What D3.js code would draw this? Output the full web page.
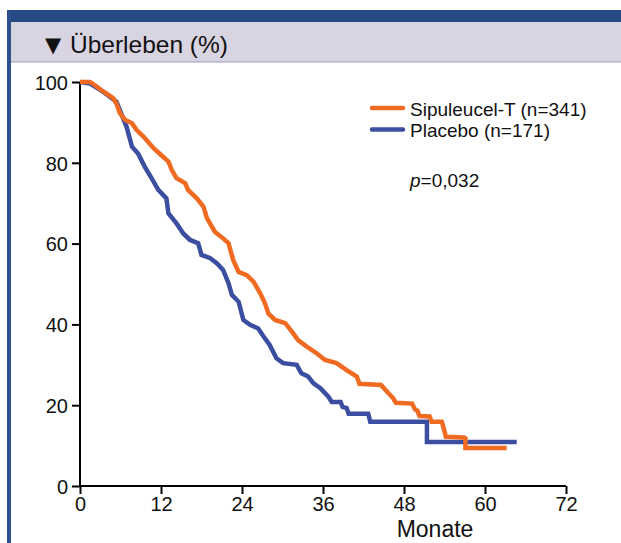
<!DOCTYPE html>
<html>
<head>
<meta charset="utf-8">
<script src="https://cdn.jsdelivr.net/npm/d3@7"></script>
<style>
  html, body { margin: 0; padding: 0; background: #fff; }
  svg { display: block; font-family: "Liberation Sans", Arial, sans-serif; }
</style>
</head>
<body>
<svg id="chart" width="621" height="543"></svg>
<script>
// values: months and survival in percent
var xTicks = [0, 12, 24, 36, 48, 60, 72];
var yTicks = [0, 20, 40, 60, 80, 100];

var seriesNames = ["Sipuleucel-T (n=341)", "Placebo (n=171)"];
var seriesColors = ["#f06a22", "#3b4e9f"];

var sipuleucelMonths = [0, 1.5, 2.2, 3.5, 4.9, 5.4, 5.9, 6.7, 7.7, 8.4, 9.4, 10.9, 12.3, 13.1, 13.6, 14.3, 15.6, 16.0,
    17.3, 18.3, 18.8, 20.0, 21.2, 22.0, 22.7, 23.5, 24.7, 25.7, 26.7, 27.4, 27.9, 28.9, 30.4, 31.4, 32.3, 33.6, 35.1,
    36.3, 38.0, 39.5, 41.0, 41.4, 44.6, 45.4, 46.4, 46.8, 49.2, 49.6, 50.0, 50.3, 51.8, 52.1, 53.6, 53.9, 54.2, 56.9,
    57.1, 57.1, 63.2];
var sipuleucelSurv = [100, 100, 99.2, 97.6, 96.0, 94.7, 92.3, 90.6, 89.8, 88.1, 86.5, 83.6, 81.5, 80.3, 78.2, 76.2, 74.9, 73.3,
    71.2, 69.1, 66.3, 62.9, 61.3, 60.1, 55.9, 53.0, 52.2, 50.6, 47.7, 45.2, 42.7, 41.1, 40.3, 38.2, 36.1, 34.5, 32.8,
    31.2, 30.4, 28.7, 27.1, 25.3, 25.0, 23.5, 21.7, 20.6, 20.4, 19.0, 18.6, 17.3, 17.2, 15.9, 15.9, 14.2, 12.2, 12.0,
    11.8, 9.4, 9.4];

var placeboMonths = [0, 1.5, 3.4, 5.4, 6.2, 6.9, 7.7, 8.6, 9.6, 10.6, 11.6, 12.8, 13.1, 14.3, 15.3, 16.3, 17.5, 18.0,
    19.3, 20.3, 21.2, 22.0, 22.5, 23.5, 24.2, 25.2, 26.4, 27.2, 28.1, 29.1, 30.1, 32.1, 32.8, 33.8, 34.6, 35.6, 36.8,
    37.3, 38.6, 38.9, 39.5, 39.8, 42.7, 43.0, 51.4, 51.4, 64.7];
var placeboSurv = [100, 99.6, 97.6, 95.1, 91.8, 88.9, 84.0, 82.3, 79.0, 76.2, 73.3, 71.2, 67.5, 65.0, 62.5, 60.9, 60.1, 57.2,
    56.4, 55.1, 53.5, 50.2, 47.3, 45.6, 41.1, 39.9, 39.0, 37.0, 34.9, 31.6, 30.4, 30.0, 27.9, 27.1, 25.4, 24.2, 22.1,
    20.8, 20.8, 19.6, 19.3, 17.9, 17.9, 15.9, 15.9, 10.9, 10.9];

var pValue = "0,032";

var svg = d3.select("#chart");

// frame: dark band on top, blue rule on the left, lavender title bar
svg.append("rect").attr("x", 7).attr("y", 10).attr("width", 614).attr("height", 12).attr("fill", "#264a85");
svg.append("rect").attr("x", 7).attr("y", 10).attr("width", 4).attr("height", 533).attr("fill", "#2c4f8f");
svg.append("rect").attr("x", 11).attr("y", 22).attr("width", 610).attr("height", 40).attr("fill", "#d9d4e1");
svg.append("line").attr("x1", 11).attr("x2", 621).attr("y1", 62).attr("y2", 62)
    .attr("stroke", "#9d98b8").attr("stroke-width", 1);
svg.append("text").attr("x", 45).attr("y", 52).attr("font-size", 21).attr("fill", "#111")
    .attr("font-family", "'DejaVu Sans', sans-serif").text("\u25BC");
svg.append("text").attr("x", 70).attr("y", 53).attr("font-size", 24.5).attr("fill", "#111")
    .text("\u00DCberleben (%)");

var x = d3.scaleLinear().domain([0, 72]).range([80, 566]);
var y = d3.scaleLinear().domain([0, 100]).range([486, 82]);

var yAxis = d3.axisLeft(y).tickValues(yTicks).tickSize(8).tickPadding(4);
var xAxis = d3.axisBottom(x).tickValues(xTicks).tickSize(8).tickPadding(3);

var styleAxis = function(g) {
    g.select(".domain").attr("stroke", "#000").attr("stroke-width", 2);
    g.selectAll(".tick line").attr("stroke", "#000").attr("stroke-width", 2);
    g.selectAll(".tick text").attr("fill", "#111").attr("font-size", 20)
        .attr("font-family", "'Liberation Sans', Arial, sans-serif");
};

svg.append("g").attr("transform", "translate(80,0)").call(yAxis).call(function(g) {
    styleAxis(g);
    g.select(".domain").attr("d", "M0," + y(100) + "V" + y(0));
    g.selectAll(".tick text").attr("dy", "0.36em");
});
svg.append("g").attr("transform", "translate(0," + y(0) + ")").call(xAxis).call(function(g) {
    styleAxis(g);
    g.select(".domain").attr("d", "M" + x(0) + ",0H" + x(72));
});

svg.append("text").attr("x", 435).attr("y", 537).attr("text-anchor", "middle")
    .attr("font-size", 23).attr("fill", "#111").text("Monate");

var line = d3.line().x(function(d) { return x(d[0]); }).y(function(d) { return y(d[1]); });

var zip = function(a, b) { return a.map(function(v, i) { return [v, b[i]]; }); };

var curves = [zip(sipuleucelMonths, sipuleucelSurv), zip(placeboMonths, placeboSurv)];

// placebo underneath, sipuleucel on top
[1, 0].forEach(function(i) {
    svg.append("path").datum(curves[i]).attr("d", line).attr("fill", "none")
        .attr("stroke", seriesColors[i]).attr("stroke-width", 4.5)
        .attr("stroke-linejoin", "miter").attr("stroke-linecap", "butt");
});

// legend
seriesNames.forEach(function(name, i) {
    var ly = 108 + i * 21.5;
    svg.append("line").attr("x1", 372).attr("x2", 403).attr("y1", ly).attr("y2", ly)
        .attr("stroke", seriesColors[i]).attr("stroke-width", 4.5).attr("stroke-linecap", "round");
    svg.append("text").attr("x", 410).attr("y", ly + 7.5).attr("font-size", 19).attr("fill", "#111").text(name);
});

var pText = svg.append("text").attr("x", 410).attr("y", 187).attr("font-size", 19).attr("fill", "#111");
pText.append("tspan").attr("font-style", "italic").text("p");
pText.append("tspan").text("=" + pValue);
</script>
</body>
</html>
